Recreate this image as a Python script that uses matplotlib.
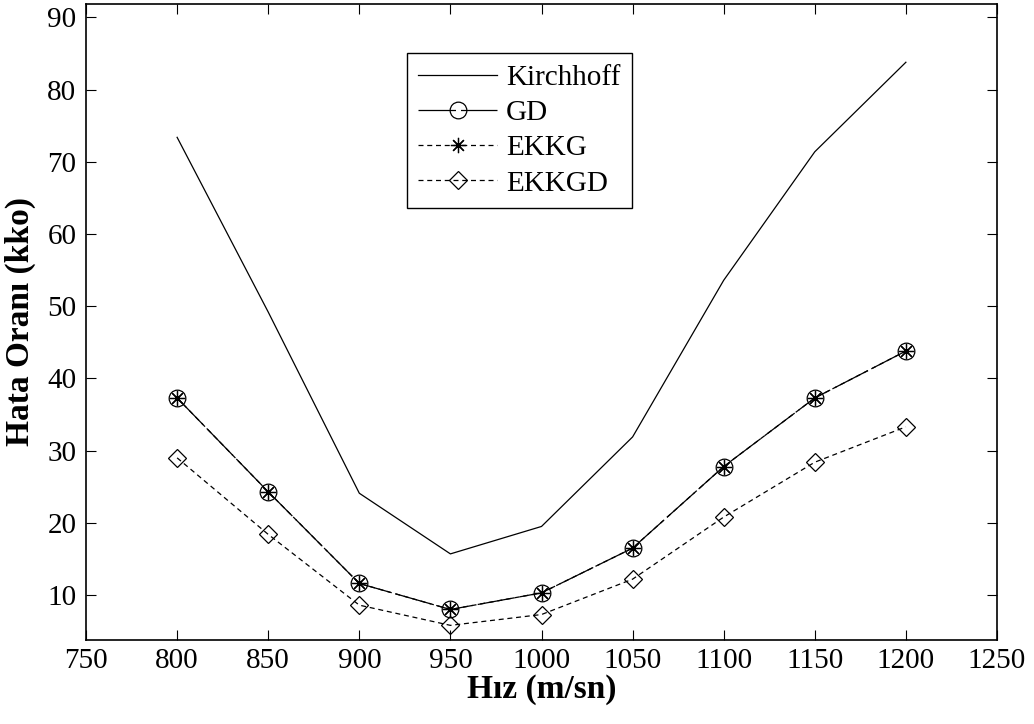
import matplotlib.pyplot as plt
import numpy as np

plt.rcParams['font.family'] = ['Liberation Serif', 'DejaVu Serif']

# Veriler
hiz = [800, 850, 900, 950, 1000, 1050, 1100, 1150, 1200]
kirchhoff = [73.4, 49.2, 24.1, 15.7, 19.5, 31.9, 53.6, 71.4, 83.8]
gd = [37.3, 24.3, 11.6, 8.0, 10.3, 16.5, 27.8, 37.3, 43.8]
ekkg = [37.3, 24.3, 11.6, 8.0, 10.3, 16.5, 27.8, 37.3, 43.8]
ekkgd = [29.0, 18.4, 8.6, 5.8, 7.3, 12.2, 20.8, 28.4, 33.3]

fig = plt.figure(figsize=(10.34, 7.24), dpi=100)
ax = fig.add_axes([0.0832, 0.116, 0.881, 0.8785])

ax.plot(hiz, kirchhoff, color='k', lw=0.9, label='Kirchhoff')
ax.plot(hiz, gd, color='k', lw=0.9, linestyle=(0, (30, 4)), marker='o',
        markersize=12, markerfacecolor='none', markeredgewidth=0.9, label='GD')
ax.plot(hiz, ekkg, color='k', lw=0.9, linestyle=(0, (4, 3)), marker=(8, 2, 0),
        markersize=11, markeredgewidth=0.9, label='EKKG')
ax.plot(hiz, ekkgd, color='k', lw=0.9, linestyle=(0, (4, 3)), marker='D',
        markersize=9, markerfacecolor='none', markeredgewidth=0.9, label='EKKGD')

ax.set_xlim(750, 1250)
ax.set_ylim(3.77, 91.87)
ax.set_xticks(np.arange(750, 1251, 50))
ax.set_yticks(np.arange(10, 91, 10))
ax.tick_params(direction='in', top=True, right=True, length=7, width=0.8,
               labelsize=21, pad=7)
ax.tick_params(axis='x', pad=6)
for s in ax.spines.values():
    s.set_linewidth(1.2)

ax.set_xlabel('Hız (m/sn)', fontsize=24, fontweight='bold', labelpad=0)
ax.set_ylabel('Hata Oranı (kko)', fontsize=24, fontweight='bold', labelpad=8)

leg = ax.legend(loc='upper left', bbox_to_anchor=(0.352, 0.923), borderaxespad=0,
                fontsize=21, fancybox=False, edgecolor='k', framealpha=1,
                handlelength=2.7, handletextpad=0.3, labelspacing=0.3,
                borderpad=0.4)
leg.get_frame().set_linewidth(1.0)

fig.savefig('out.png', dpi=100)
